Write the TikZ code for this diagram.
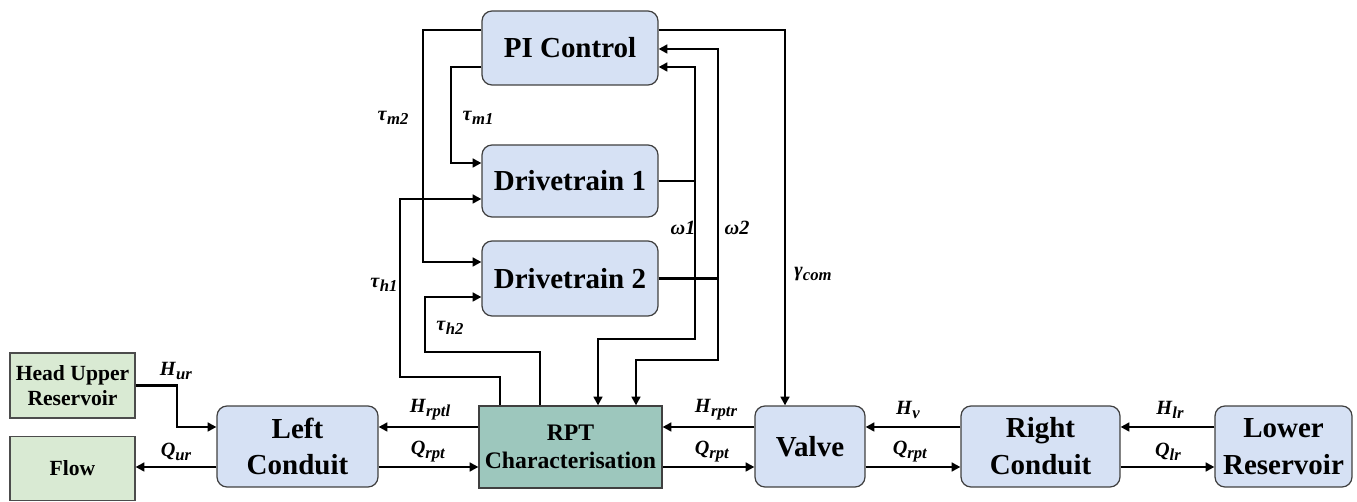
\documentclass[tikz,border=0pt]{standalone}
\usepackage{fontspec}
\setmainfont{Liberation Serif}
\usetikzlibrary{arrows.meta}
\definecolor{blkblue}{HTML}{D6E1F4}
\definecolor{rptteal}{HTML}{9DC7BD}
\definecolor{srcgreen}{HTML}{D9EAD3}
\newcommand{\sym}[2]{\textbf{\textit{#1}}\raisebox{-0.45ex}{\fontsize{9.5}{10}\selectfont\textbf{\textit{#2}}}}
\tikzset{
  blk/.style={draw=black!75, fill=blkblue, rounded corners=0.2cm, line width=0.7pt,
    align=center, inner sep=1pt, font=\bfseries\fontsize{16.5}{21}\selectfont},
  rptblk/.style={draw=black!75, fill=rptteal, line width=0.7pt, align=center,
    inner sep=1pt, font=\bfseries\fontsize{13.5}{16}\selectfont},
  srcblk/.style={draw=black!70, fill=srcgreen, line width=0.7pt, align=center,
    inner sep=1pt, font=\bfseries\fontsize{12.3}{14}\selectfont},
  wire/.style={line width=1.4pt},
  sig/.style={wire, -{Triangle[length=5pt,width=5pt]}},
  lab/.style={inner sep=1pt, font=\fontsize{11.5}{13}\selectfont}
}
\begin{document}
\begin{tikzpicture}[x=0.02cm,y=-0.02cm]
  \useasboundingbox (0,0) rectangle (1357,502);

  % blocks
  \node[blk, minimum width=3.52cm, minimum height=1.48cm] (pi) at (570,48) {PI Control};
  \node[blk, minimum width=3.52cm, minimum height=1.44cm] (dt1) at (570,181) {Drivetrain 1};
  \node[blk, minimum width=3.52cm, minimum height=1.5cm] (dt2) at (570,278.5) {Drivetrain 2};
  \node[rptblk, minimum width=3.66cm, minimum height=1.64cm] (rpt) at (570.5,447) {RPT\\Characterisation};
  \node[blk, minimum width=3.22cm, minimum height=1.62cm] (lc) at (297.5,446.5) {Left\\Conduit};
  \node[blk, minimum width=2.2cm, minimum height=1.62cm] (valve) at (810,446.5) {Valve};
  \node[blk, minimum width=3.18cm, minimum height=1.62cm] (rc) at (1040.5,446.5) {Right\\Conduit};
  \node[blk, minimum width=2.74cm, minimum height=1.62cm] (lr) at (1283.5,446.5) {Lower\\Reservoir};
  \node[srcblk, minimum width=2.5cm, minimum height=1.3cm] (hur) at (72.5,385.5) {Head Upper\\Reservoir};
  \node[srcblk, minimum width=2.5cm, minimum height=1.28cm] (flow) at (72.5,468.5) {Flow};

  % control loop
  \draw[sig] (pi.west |- 0,30) -| (423,262) -- (dt2.west |- 0,262);
  \draw[sig] (pi.west |- 0,67) -| (451,163) -- (dt1.west |- 0,163);
  \draw[sig] (rpt.north -| 500,0) -- (500,377) -| (400,199) -- (dt1.west |- 0,199);
  \draw[sig] (rpt.north -| 540,0) -- (540,352) -| (425,297) -- (dt2.west |- 0,297);
  \draw[sig] (dt1.east) -- (695,181) coordinate (w1) -- (695,67) -- (pi.east |- 0,67);
  \draw[sig] (w1) -- (695,339) -| (rpt.north -| 598,0);
  \draw[sig] (dt2.east) -- (718,278.5) coordinate (w2) -- (718,49) -- (pi.east |- 0,49);
  \draw[sig] (w2) -- (718,360) -| (rpt.north -| 636,0);
  \draw[sig] (pi.east |- 0,30) -| (valve.north -| 785,0);

  % hydraulic chain
  \draw[sig] (hur.east) -| (177,427) -- (lc.west |- 0,427);
  \draw[sig] (lc.west |- 0,467) -- (flow.east |- 0,467);
  \draw[sig] (rpt.west |- 0,427) -- (lc.east |- 0,427);
  \draw[sig] (lc.east |- 0,467) -- (rpt.west |- 0,467);
  \draw[sig] (valve.west |- 0,427) -- (rpt.east |- 0,427);
  \draw[sig] (rpt.east |- 0,467) -- (valve.west |- 0,467);
  \draw[sig] (rc.west |- 0,427) -- (valve.east |- 0,427);
  \draw[sig] (valve.east |- 0,467) -- (rc.west |- 0,467);
  \draw[sig] (lr.west |- 0,427) -- (rc.east |- 0,427);
  \draw[sig] (rc.east |- 0,467) -- (lr.west |- 0,467);

  % labels
  \node[lab] (ltm2) at (393,118) {\sym{τ}{m2}};
  \node[lab] (ltm1) at (478,118) {\sym{τ}{m1}};
  \node[lab] (lth1) at (384,285) {\sym{τ}{h1}};
  \node[lab] (lth2) at (450,328) {\sym{τ}{h2}};
  \node[lab] (lw1) at (683,228) {\textbf{\textit{ω1}}};
  \node[lab] (lw2) at (737,228) {\textbf{\textit{ω2}}};
  \node[lab] (lgc) at (813,274) {\sym{γ}{com}};
  \node[lab] (lhur) at (176,371) {\sym{H}{ur}};
  \node[lab] (lqur) at (176,452) {\sym{Q}{ur}};
  \node[lab] (lhl) at (430,410) {\sym{H}{rptl}};
  \node[lab] (lq1) at (428,452) {\sym{Q}{rpt}};
  \node[lab] (lhr) at (716,410) {\sym{H}{rptr}};
  \node[lab] (lq2) at (712,452) {\sym{Q}{rpt}};
  \node[lab] (lhv) at (908,410) {\sym{H}{v}};
  \node[lab] (lq3) at (910,452) {\sym{Q}{rpt}};
  \node[lab] (lhlr) at (1170,410) {\sym{H}{lr}};
  \node[lab] (lqlr) at (1168,452) {\sym{Q}{lr}};
\end{tikzpicture}
\end{document}
